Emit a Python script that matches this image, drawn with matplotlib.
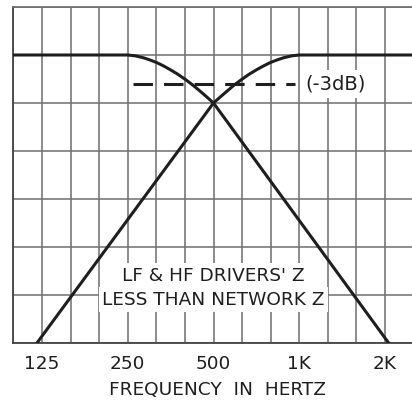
import matplotlib
matplotlib.use("Agg")
import matplotlib.pyplot as plt
from matplotlib.ticker import FixedLocator, NullFormatter, FixedFormatter

plt.rcParams['font.family'] = ['DejaVu Sans']
plt.rcParams['lines.scale_dashes'] = False

# Low-frequency driver response (Hz, dB)
lf_freq = [99.2, 250, 266, 284, 300, 316, 334, 353, 374, 399, 422, 446, 472, 500, 2060]
lf_db = [0, 0, -0.09, -0.29, -0.53, -0.79, -1.14, -1.54, -1.99, -2.56, -3.11,
         -3.70, -4.33, -5.0, -30]

# High-frequency driver response (Hz, dB)
hf_freq = [120, 500, 530, 561, 592, 627, 668, 708, 749, 791, 833, 880, 940, 1000, 2520]
hf_db = [-30, -5.0, -4.33, -3.70, -3.11, -2.56, -1.99, -1.54, -1.14, -0.79, -0.53,
         -0.29, -0.09, 0, 0]

# Octave labels on the frequency axis
tick_freqs = [125, 250, 500, 1000, 2000]
tick_labels = ['125', '250', '500', '1K', '2K']

# Half-power reference
half_power_db = -3
half_power_from, half_power_to = 260, 970

GRID = '#6e6e6e'
INK = '#1e1e1e'
FS = 13.3

fig = plt.figure(figsize=(4.12, 4.0), dpi=100)
ax = fig.add_axes([13.4 / 412, 57 / 400, 400.2 / 412, 336 / 400])

ax.set_xscale('log')
ax.set_xlim(125 * 2 ** (-1 / 3), 2000 * 2 ** (1 / 3))
ax.set_ylim(-30, 5)

# third-octave grid
third_octaves = [125 * 2 ** (k / 3) for k in range(-1, 14)]
ax.xaxis.set_major_locator(FixedLocator(tick_freqs))
ax.xaxis.set_major_formatter(FixedFormatter(tick_labels))
ax.xaxis.set_minor_locator(FixedLocator(third_octaves))
ax.xaxis.set_minor_formatter(NullFormatter())
ax.set_yticks(range(-30, 6, 5))
ax.set_yticklabels([])
ax.tick_params(axis='both', which='both', length=0)
ax.tick_params(axis='x', which='major', pad=8.5, labelsize=FS, colors=INK)
ax.set_axisbelow(True)
ax.grid(True, which='both', axis='x', color=GRID, lw=1.1)
ax.grid(True, which='major', axis='y', color=GRID, lw=1.1)

for side in ('left', 'bottom', 'top'):
    ax.spines[side].set_color('#444444')
    ax.spines[side].set_linewidth(1.3)
ax.spines['top'].set_color(GRID)
ax.spines['right'].set_visible(False)

ax.plot(lf_freq, lf_db, color=INK, lw=2.2, solid_joinstyle='round', zorder=4)
ax.plot(hf_freq, hf_db, color=INK, lw=2.2, solid_joinstyle='round', zorder=4)

ax.hlines(half_power_db, half_power_from, half_power_to, color=INK, lw=2.2,
          linestyles=(0, (14, 8)), zorder=3)
ax.text(1052, half_power_db, '(-3dB)', fontsize=FS + 0.7, color=INK,
        ha='left', va='center', zorder=5,
        bbox=dict(boxstyle='square,pad=0.22', fc='white', ec='none'))

ax.text(500, -23.0, "LF & HF DRIVERS' Z", fontsize=FS, color=INK,
        ha='center', va='center', zorder=5,
        bbox=dict(boxstyle='square,pad=0.2', fc='white', ec='none'))
ax.text(500, -25.5, 'LESS THAN NETWORK Z', fontsize=FS, color=INK,
        ha='center', va='center', zorder=5,
        bbox=dict(boxstyle='square,pad=0.2', fc='white', ec='none'))

ax.set_xlabel('FREQUENCY  IN  HERTZ', fontsize=FS, color=INK)
ax.xaxis.set_label_coords(0.509, -(381 - 343) / 336)

fig.savefig('out.png', dpi=100, facecolor='white')
